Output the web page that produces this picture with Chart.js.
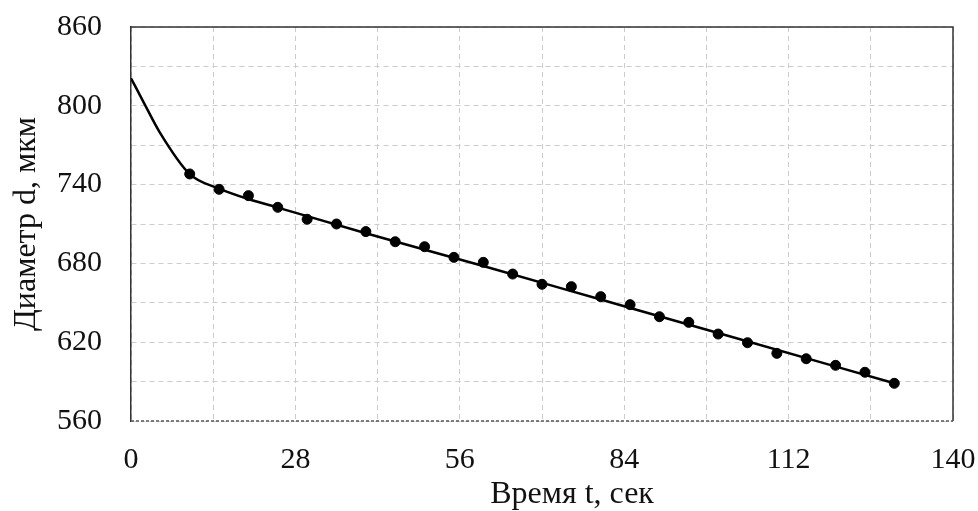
<!DOCTYPE html>
<html>
<head>
<meta charset="utf-8">
<script src="https://cdn.jsdelivr.net/npm/chart.js@4"></script>
<style>
  html, body { margin: 0; padding: 0; background: #fff; }
  #wrap { width: 978px; height: 511px; }
</style>
</head>
<body>
<div id="wrap"><canvas id="chart" width="978" height="511"></canvas></div>
<script>
// measured points
const timeSec = [10, 15, 20, 25, 30, 35, 40, 45, 50, 55, 60, 65, 70, 75, 80, 85, 90, 95, 100, 105, 110, 115, 120, 125, 130];
const diameter = [748.1, 736.4, 731.6, 722.7, 713.6, 710.0, 704.2, 696.5, 692.7, 684.6, 680.8, 671.9, 664.1, 662.3, 654.7, 648.6, 639.4, 635.1, 626.2, 619.6, 611.5, 607.4, 602.4, 597.1, 588.7];

// calculated curve
const curveTime = [0, 2, 5, 10, 15, 20, 25, 40, 60, 80, 100, 130];
const curveDiameter = [821, 804, 779, 748, 737, 729, 722.5, 703, 678, 652.5, 627, 588.7];

const xTicks = [0, 28, 56, 84, 112, 140];
const yTicks = [560, 620, 680, 740, 800, 860];

const xTitle = 'Время t, сек';

Chart.defaults.font.family = "'Liberation Serif', 'Times New Roman', serif";
Chart.defaults.color = '#111';

// frame (top, right solid, bottom dashed) and the x axis title
const frame = {
    id: 'frame',
    afterDraw(chart) {
        const a = chart.chartArea;
        const c = chart.ctx;
        c.save();
        c.strokeStyle = '#333';
        c.lineWidth = 1.5;
        c.beginPath();
        c.moveTo(a.left, a.top);
        c.lineTo(a.right, a.top);
        c.lineTo(a.right, a.bottom);
        c.stroke();
        c.strokeStyle = '#555';
        c.setLineDash([3, 2]);
        c.beginPath();
        c.moveTo(a.left, a.bottom);
        c.lineTo(a.right, a.bottom);
        c.stroke();
        c.setLineDash([]);
        c.fillStyle = '#111';
        c.font = "32px 'Liberation Serif'";
        c.textAlign = 'center';
        c.textBaseline = 'middle';
        c.fillText(xTitle, 572, 495);
        c.restore();
    }
};

new Chart(document.getElementById('chart').getContext('2d'), {
    type: 'scatter',
    data: {
        datasets: [{
            label: 'curve',
            data: curveTime.map((t, i) => ({ x: t, y: curveDiameter[i] })),
            showLine: true,
            borderColor: '#000',
            borderWidth: 2.5,
            pointRadius: 0,
            cubicInterpolationMode: 'monotone'
        }, {
            label: 'points',
            data: timeSec.map((t, i) => ({ x: t, y: diameter[i] })),
            showLine: false,
            backgroundColor: '#000',
            borderColor: '#000',
            pointRadius: 5
        }]
    },
    options: {
        responsive: false,
        animation: false,
        layout: { padding: { top: 27, right: 25, left: 0, bottom: 0 } },
        plugins: { legend: { display: false }, tooltip: { enabled: false } },
        scales: {
            x: {
                type: 'linear',
                min: 0,
                max: 140,
                afterFit: s => {
                    s.height = 90;
                    s.paddingLeft = 0;
                    s.paddingRight = 0;
                },
                afterBuildTicks: s => {
                    const t = [];
                    for (let v = 0; v <= 140; v += 14) t.push({ value: v });
                    s.ticks = t;
                },
                ticks: {
                    font: { size: 30 },
                    padding: 21,
                    maxRotation: 0,
                    autoSkip: false,
                    callback: v => xTicks.includes(v) ? String(v) : ''
                },
                grid: { color: '#cccccc', lineWidth: 1, drawTicks: false },
                border: { display: false, dash: [5, 4] }
            },
            y: {
                type: 'linear',
                min: 560,
                max: 860,
                afterFit: s => {
                    s.width = 131;
                    s.paddingTop = 0;
                    s.paddingBottom = 0;
                },
                afterBuildTicks: s => {
                    const t = [];
                    for (let v = 560; v <= 860; v += 30) t.push({ value: v });
                    s.ticks = t;
                },
                ticks: {
                    font: { size: 30 },
                    padding: 29,
                    autoSkip: false,
                    callback: v => yTicks.includes(v) ? String(v) : ''
                },
                grid: { color: '#cccccc', lineWidth: 1, drawTicks: false },
                border: { display: true, color: '#333', width: 1.5, dash: [5, 4] },
                title: { display: true, text: 'Диаметр d, мкм', font: { size: 32 }, padding: { top: 7, bottom: 0 } }
            }
        }
    },
    plugins: [frame]
});
</script>
</body>
</html>
